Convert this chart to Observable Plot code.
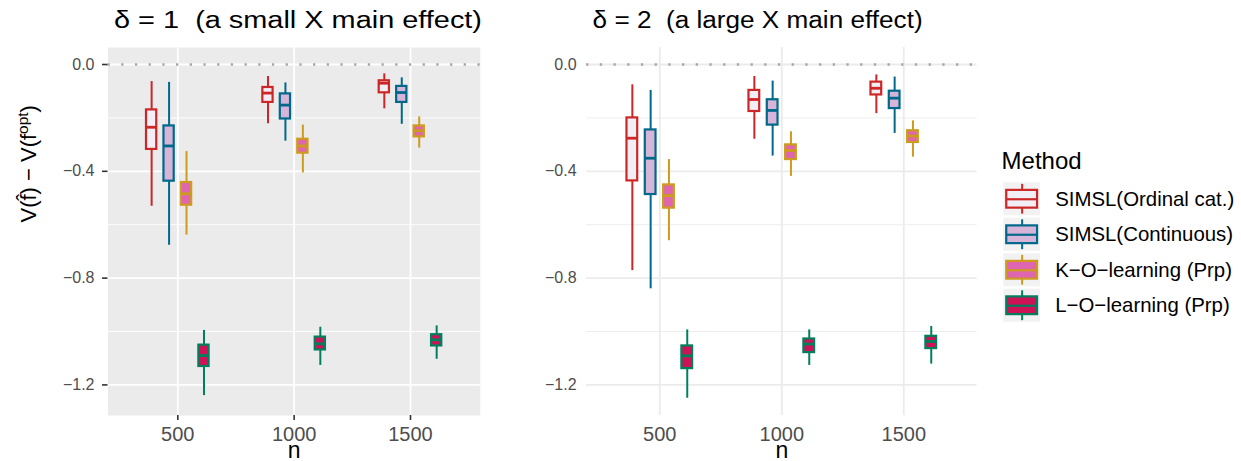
<!DOCTYPE html>
<html><head><meta charset="utf-8">
<script src="https://cdn.jsdelivr.net/npm/d3@7"></script>
<script src="https://cdn.jsdelivr.net/npm/@observablehq/plot@0.6"></script>
<style>
html,body{margin:0;padding:0;background:#fff;}
#wrap{position:relative;width:1241px;height:461px;font-family:"Liberation Sans",Arial,Helvetica,sans-serif;}
#wrap svg{position:absolute;top:0;overflow:visible;}
</style></head><body><div id="wrap"></div>
<script>
const methods = ["SIMSL(Ordinal cat.)", "SIMSL(Continuous)", "K\u2212O\u2212learning (Prp)", "L\u2212O\u2212learning (Prp)"];
const nValues = [500, 1000, 1500];
const outlineColors = ["#CD2626", "#00688B", "#CD9B1D", "#007F5F"];
const fillColors = ["#F1EEF6", "#D7B5D8", "#DF65B0", "#CE1256"];
const panelTitles = ["\u03b4 = 1\u00a0\u00a0(a small X main effect)", "\u03b4 = 2\u00a0\u00a0(a large X main effect)"];
const yTitle = "V(f\u0302) \u2212 V(fopt)";
const yTicks = [0, -0.4, -0.8, -1.2];
const yMinor = [-0.2, -0.6, -1.0];

// [lower whisker, Q1, median, Q3, upper whisker] for n = 500, 1000, 1500
const d1Ordinal    = [[-0.531, -0.318, -0.235, -0.170, -0.064], [-0.222, -0.142, -0.107, -0.086, -0.045], [-0.166, -0.106, -0.070, -0.061, -0.035]];
const d1Continuous = [[-0.677, -0.437, -0.305, -0.230, -0.067], [-0.287, -0.204, -0.152, -0.110, -0.069], [-0.224, -0.142, -0.105, -0.082, -0.050]];
const d1KO         = [[-0.639, -0.527, -0.484, -0.442, -0.326], [-0.406, -0.332, -0.305, -0.280, -0.227], [-0.313, -0.271, -0.248, -0.230, -0.196]];
const d1LO         = [[-1.240, -1.131, -1.090, -1.051, -0.996], [-1.127, -1.069, -1.046, -1.021, -0.984], [-1.104, -1.054, -1.031, -1.012, -0.979]];

const d2Ordinal    = [[-0.772, -0.436, -0.276, -0.200, -0.076], [-0.280, -0.176, -0.131, -0.097, -0.045], [-0.184, -0.114, -0.089, -0.066, -0.039]];
const d2Continuous = [[-0.840, -0.487, -0.351, -0.245, -0.097], [-0.343, -0.227, -0.172, -0.132, -0.062], [-0.258, -0.165, -0.126, -0.100, -0.047]];
const d2KO         = [[-0.660, -0.538, -0.491, -0.451, -0.356], [-0.419, -0.356, -0.322, -0.301, -0.252], [-0.347, -0.292, -0.268, -0.248, -0.211]];
const d2LO         = [[-1.250, -1.139, -1.091, -1.054, -0.994], [-1.127, -1.079, -1.047, -1.028, -0.994], [-1.122, -1.064, -1.037, -1.018, -0.981]];

const dodge = [-112.5, -37.5, 37.5, 112.5];
const halfW = 22;
const FONT = '"Liberation Sans", Arial, Helvetica, sans-serif';

function rows(sets) {
  const out = [];
  sets.forEach((s, mi) => s.forEach((v, ni) => out.push({
    mi, method: methods[mi], n: nValues[ni], xc: nValues[ni] + dodge[mi],
    lo: v[0], q1: v[1], med: v[2], q3: v[3], hi: v[4]
  })));
  return out;
}

function panel(data, {title, titleLength, grey, width, marginLeft, marginRight, yAxisTitle}) {
  const gridColor = grey ? "#FFFFFF" : "#EBEBEB";
  const marks = [];
  if (grey) marks.push(Plot.frame({fill: "#EBEBEB", stroke: null}));
  marks.push(
    Plot.ruleY(yMinor, {stroke: gridColor, strokeWidth: 0.9}),
    Plot.ruleY(yTicks, {stroke: gridColor, strokeWidth: 1.8}),
    Plot.ruleX(nValues, {stroke: gridColor, strokeWidth: 1.8}),
    Plot.ruleY([0], {stroke: "#A6A6A6", strokeWidth: 2.3, strokeDasharray: "2.3,11.4"}),
    Plot.ruleX(data, {x: "xc", y1: "lo", y2: "hi", stroke: d => outlineColors[d.mi], strokeWidth: 2}),
    Plot.rect(data, {x1: d => d.xc - halfW, x2: d => d.xc + halfW, y1: "q1", y2: "q3",
      fill: d => fillColors[d.mi], stroke: d => outlineColors[d.mi], strokeWidth: 2.2}),
    Plot.ruleY(data, {y: "med", x1: d => d.xc - halfW, x2: d => d.xc + halfW, stroke: d => outlineColors[d.mi], strokeWidth: 2.8}),
    Plot.axisY({ticks: yTicks, tickFormat: d3.format(".1f"), tickSize: grey ? 5.5 : 0, tickPadding: grey ? 8 : 10,
      fontSize: 16, color: "#4D4D4D", stroke: "#333333", strokeWidth: 1.6, label: null}),
    Plot.axisX({ticks: nValues, tickFormat: d => String(d), tickSize: grey ? 5 : 0, tickPadding: grey ? 6 : 11,
      fontSize: 20, color: "#4D4D4D", stroke: "#333333", strokeWidth: 1.6, label: null}),
    Plot.text([title], {text: d => d, frameAnchor: "top-left", dx: 6, dy: -27, textAnchor: "start", lineAnchor: "middle", fontSize: 23, fill: "black"}),
    Plot.text(["n"], {text: d => d, frameAnchor: "bottom", dy: 35, lineAnchor: "middle", fontSize: 23, fill: "black"})
  );
  if (yAxisTitle) marks.push(Plot.text([yTitle], {text: d => d, frameAnchor: "left", dx: -79, dy: -9, rotate: -90, lineAnchor: "middle", fontSize: 22, fill: "black"}));
  const svg = Plot.plot({
    width, height: 461, marginLeft, marginRight, marginTop: 47, marginBottom: 46,
    style: {fontFamily: FONT, background: "transparent", overflow: "visible"},
    x: {domain: [200, 1800]},
    y: {domain: [-1.3146, 0.0637]},
    color: {type: "identity"},
    marks
  });
  d3.select(svg).selectAll("text").filter(function() { return this.textContent === title; })
    .attr("textLength", titleLength).attr("lengthAdjust", "spacingAndGlyphs");
  return svg;
}

const wrap = document.getElementById("wrap");
const p1 = panel(rows([d1Ordinal, d1Continuous, d1KO, d1LO]), {title: panelTitles[0], titleLength: 368, grey: true, width: 500, marginLeft: 107.5, marginRight: 20.2, yAxisTitle: true});
p1.style.left = "0px";
wrap.appendChild(p1);
const p2 = panel(rows([d2Ordinal, d2Continuous, d2KO, d2LO]), {title: panelTitles[1], titleLength: 330, grey: false, width: 490, marginLeft: 86.1, marginRight: 13.5, yAxisTitle: false});
p2.style.left = "500px";
wrap.appendChild(p2);

// y title with superscript
d3.select(p1).selectAll("text").filter(function() { return this.textContent === yTitle; }).each(function() {
  const t = d3.select(this);
  t.text(null);
  t.append("tspan").text("V(f\u0302) \u2212 V(f");
  t.append("tspan").attr("baseline-shift", "super").attr("font-size", "70%").text("opt");
  t.append("tspan").text(")");
});

// legend
const idx = methods.map((m, i) => i);
const legend = Plot.plot({
  width: 251, height: 461, margin: 0,
  style: {fontFamily: FONT, background: "transparent", overflow: "visible"},
  x: {domain: [0, 1], range: [13.3, 50], axis: null},
  y: {domain: [-0.5, 3.5], range: [181, 323], axis: null},
  color: {type: "identity"},
  marks: [
    Plot.rect(idx, {x1: 0, x2: 1, y1: i => i - 0.465, y2: i => i + 0.465, fill: "#F2F2F2"}),
    Plot.ruleX(idx, {x: 0.5, y1: i => i - 0.42, y2: i => i + 0.42, stroke: i => outlineColors[i], strokeWidth: 2}),
    Plot.rect(idx, {x1: 0.08, x2: 0.92, y1: i => i - 0.25, y2: i => i + 0.25, fill: i => fillColors[i], stroke: i => outlineColors[i], strokeWidth: 2.2}),
    Plot.ruleY(idx, {y: i => i, x1: 0.08, x2: 0.92, stroke: i => outlineColors[i], strokeWidth: 2.2}),
    Plot.text(idx, {x: 1.4, y: i => i, text: i => methods[i], textAnchor: "start", lineAnchor: "middle", fontSize: 20.4, fill: "black"}),
    Plot.text(["Method"], {x: -0.06, y: -1.08, text: d => d, textAnchor: "start", lineAnchor: "middle", fontSize: 24, fill: "black"})
  ]
});
legend.style.left = "990px";
wrap.appendChild(legend);
</script></body></html>
